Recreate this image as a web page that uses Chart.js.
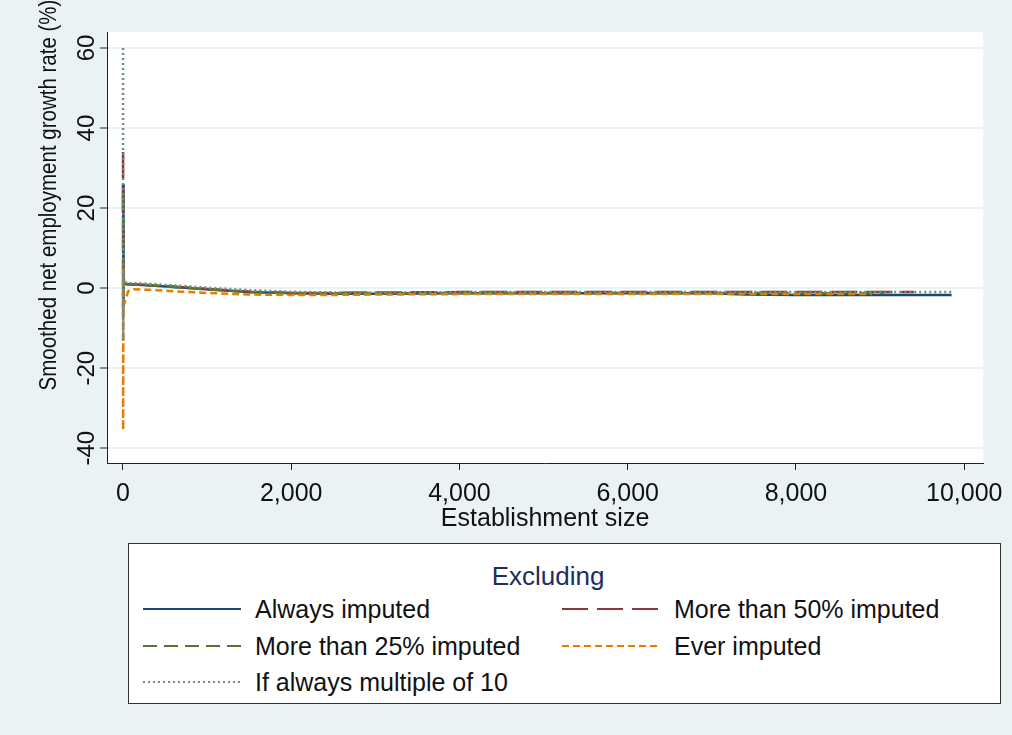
<!DOCTYPE html>
<html>
<head>
<meta charset="utf-8">
<script src="https://cdn.jsdelivr.net/npm/chart.js@4.4.1/dist/chart.umd.min.js"></script>
<style>
  body{margin:0;background:#eaf2f3;font-family:Arial,"Liberation Sans",sans-serif;}
  #wrap{position:relative;width:1012px;height:735px;background:#eaf2f3;}
  #chart{position:absolute;left:0;top:0;}
  #legend{position:absolute;left:128px;top:543px;width:873px;height:161px;background:#fff;border:1px solid #333;box-sizing:border-box;}
  #legend .ttl{position:absolute;left:0;width:838px;top:17px;text-align:center;font-size:26px;color:#1e2d5c;line-height:30px;}
  #legend .item{position:absolute;font-size:25px;line-height:28px;color:#111;white-space:nowrap;}
  #legend svg{position:absolute;}
</style>
</head>
<body>
<div id="wrap">
  <canvas id="chart" width="1012" height="540"></canvas>
  <div id="legend"><div class="ttl">Excluding</div></div>
</div>
<script>
const SIZES = [1, 2, 5, 12, 30, 60, 100, 300, 600, 1000, 1500, 2000, 2500, 3000, 4000, 5000, 6000, 7000, 7400, 8000, 8900, 9050, 9400, 9850];

const ALWAYS = [26, -3, 3, 1.5, 1.0, 1.0, 0.9, 0.7, 0.3, -0.3, -1.0, -1.3, -1.4, -1.4, -1.3, -1.3, -1.3, -1.3, -1.6, -1.7, -1.7, -1.7, -1.7, -1.7];
const MORE50 = [34, -5, 4, 1.8, 1.2, 1.0, 1.0, 0.8, 0.4, -0.2, -0.9, -1.2, -1.2, -1.1, -1.0, -1.0, -1.0, -1.0, -1.0, -1.0, -1.0, -1.0, -1.0];
const MORE25 = [23, -8, 2, 1.2, 1.0, 0.9, 0.9, 0.7, 0.3, -0.3, -1.0, -1.2, -1.3, -1.3, -1.2, -1.2, -1.2, -1.2, -1.2, -1.3, -1.2, -1.2];
const EVER   = [5, -35.5, -4, -4, -3, -0.8, -0.3, -0.4, -0.8, -1.2, -1.6, -1.7, -1.7, -1.6, -1.5, -1.5, -1.5, -1.5, -1.5, -1.5, -1.5];
const MULT10 = [60, -13, 4, 2, 1.5, 1.2, 1.3, 1.1, 0.7, 0.1, -0.5, -0.9, -1.1, -1.1, -1.0, -1.0, -1.0, -1.0, -1.0, -1.0, -1.0, -1.0, -1.0, -1.0];

const X_TICKS = [0, 2000, 4000, 6000, 8000, 10000];
const Y_TICKS = [-40, -20, 0, 20, 40, 60];
const FONT = 'Arial, "Liberation Sans", sans-serif';

const pts = vals => vals.map((v,i)=>({x:SIZES[i], y:v}));
const ds = (label, vals, color, dash, order) => ({label, data:pts(vals), borderColor:color, borderWidth:2.5, borderDash:dash, pointRadius:0, tension:0, fill:false, order});

const datasets = [
  ds('Always imputed', ALWAYS, '#1a476f', [], 5),
  ds('More than 50% imputed', MORE50, '#90353b', [26, 9], 4),
  ds('More than 25% imputed', MORE25, '#55752f', [14, 7], 3),
  ds('Ever imputed', EVER, '#e37e00', [7, 4], 2),
  ds('If always multiple of 10', MULT10, '#6e8e84', [2, 3], 1)
];

const plotBg = {
  id:'plotBg',
  beforeDraw(c){const a=c.chartArea,x=c.ctx;x.save();x.fillStyle='#fff';x.fillRect(a.left,a.top,a.right-a.left,a.bottom-a.top);x.restore();},
  afterDraw(c){
    const x=c.ctx, y=c.scales.y;
    x.save(); x.fillStyle='#111'; x.textAlign='center'; x.textBaseline='middle';
    x.font='24px '+FONT;
    for(const v of Y_TICKS){const py=y.getPixelForValue(v);x.save();x.translate(87,py);x.rotate(-Math.PI/2);x.fillText(String(v),0,0);x.restore();}
    x.font='20.5px '+FONT;
    x.translate(49,195); x.rotate(-Math.PI/2); x.scale(1,1.2);
    x.fillText('Smoothed net employment growth rate (%)',0,0);
    x.restore();
  }
};

new Chart(document.getElementById('chart'), {
  type:'line',
  data:{datasets},
  plugins:[plotBg],
  options:{
    responsive:false, animation:false, devicePixelRatio:1,
    layout:{padding:{top:32,right:25,left:0,bottom:0}},
    plugins:{legend:{display:false}, tooltip:{enabled:false}},
    scales:{
      x:{type:'linear', min:-190, max:10225,
        afterBuildTicks:s=>{s.ticks=X_TICKS.map(v=>({value:v}));},
        afterFit:s=>{s.height=77;},
        grid:{drawOnChartArea:false, tickLength:7, tickColor:'#222', tickWidth:1},
        border:{color:'#222', width:1},
        ticks:{color:'#111', padding:9, maxRotation:0, font:{family:FONT,size:25},
          callback:v=>v.toLocaleString('en-US')},
        title:{display:true, text:'Establishment size', color:'#111', font:{family:FONT,size:25}, padding:{top:0,bottom:6}}
      },
      y:{type:'linear', min:-43.7, max:64,
        afterBuildTicks:s=>{s.ticks=Y_TICKS.map(v=>({value:v}));},
        afterFit:s=>{s.width=107;},
        grid:{color:'#eaf2f3', lineWidth:2, tickLength:7, tickColor:'#222', tickWidth:1},
        border:{color:'#222', width:1},
        ticks:{display:false}
      }
    }
  }
});

// legend: two columns, built from the datasets
const LEG_POS = [[0,0],[1,0],[0,1],[1,1],[0,2]];
const leg = document.getElementById('legend');
datasets.forEach((d,i)=>{
  const [col,row]=LEG_POS[i];
  const lx = col ? 433 : 14, ty = 65 + row*36.5;
  const svg = document.createElementNS('http://www.w3.org/2000/svg','svg');
  svg.setAttribute('width','98'); svg.setAttribute('height','6');
  svg.style.left=lx+'px'; svg.style.top=(ty-3)+'px';
  const ln = document.createElementNS('http://www.w3.org/2000/svg','line');
  ln.setAttribute('x1','0'); ln.setAttribute('x2','98'); ln.setAttribute('y1','3'); ln.setAttribute('y2','3');
  ln.setAttribute('stroke',d.borderColor); ln.setAttribute('stroke-width','2');
  if(d.borderDash.length) ln.setAttribute('stroke-dasharray',d.borderDash.join(' '));
  svg.appendChild(ln); leg.appendChild(svg);
  const t=document.createElement('div'); t.className='item'; t.textContent=d.label;
  t.style.left=(lx+112)+'px'; t.style.top=(ty-14)+'px'; leg.appendChild(t);
});
</script>
</body>
</html>
